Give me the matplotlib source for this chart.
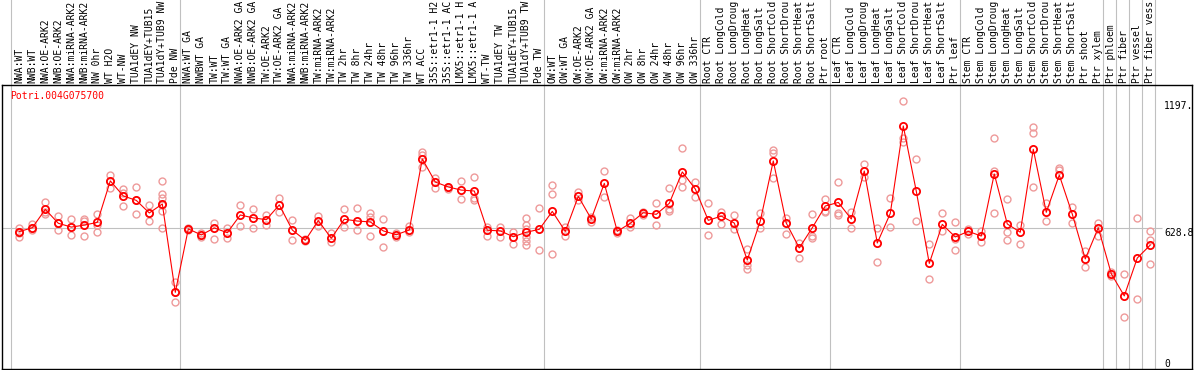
import numpy as np
import matplotlib
matplotlib.use("Agg")
import matplotlib.pyplot as plt
import matplotlib.transforms as mtransforms

plt.rcParams['font.family'] = 'DejaVu Sans Mono'
plt.rcParams['font.size'] = 7.0

gene = "Potri.004G075700"

samples = [
    # NW
    "NWA:WT", "NWB:WT", "NWA:OE-ARK2", "NWB:OE-ARK2", "NWA:miRNA-ARK2", "NWB:miRNA-ARK2",
    "NW 0hr", "WT H2O", "WT-NW", "TUA1dEY NW", "TUA1dEY+TUB15 NW", "TUA1dY+TUB9 NW", "Pde NW",
    # TW
    "NWA:WT GA", "NWBWT GA", "TW:WT", "TW:WT GA", "NWA:OE-ARK2 GA", "NWB:OE-ARK2 GA",
    "TW:OE-ARK2", "TW:OE-ARK2 GA", "NWA:miRNA-ARK2", "NWB:miRNA-ARK2", "TW:miRNA-ARK2",
    "TW:miRNA-ARK2", "TW 2hr", "TW 8hr", "TW 24hr", "TW 48hr", "TW 96hr", "TW 336hr", "WT ACC",
    "35S::etr1-1 H2O", "35S::etr1-1 ACC", "LMX5::etr1-1 H2O", "LMX5::etr1-1 ACC", "WT-TW",
    "TUA1dEY TW", "TUA1dEY+TUB15 TW", "TUA1dY+TUB9 TW", "Pde TW",
    # OW
    "OW:WT", "OW:WT GA", "OW:OE-ARK2", "OW:OE-ARK2 GA", "OW:miRNA-ARK2", "OW:miRNA-ARK2",
    "OW 2hr", "OW 8hr", "OW 24hr", "OW 48hr", "OW 96hr", "OW 336hr",
    # root
    "Root CTR", "Root LongCold", "Root LongDrought", "Root LongHeat", "Root LongSalt",
    "Root ShortCold", "Root ShortDrought", "Root ShortHeat", "Root ShortSalt", "Ptr root",
    # leaf
    "Leaf CTR", "Leaf LongCold", "Leaf LongDrought", "Leaf LongHeat", "Leaf LongSalt",
    "Leaf ShortCold", "Leaf ShortDrought", "Leaf ShortHeat", "Leaf ShortSalt", "Ptr leaf",
    # stem
    "Stem CTR", "Stem LongCold", "Stem LongDrought", "Stem LongHeat", "Stem LongSalt",
    "Stem ShortCold", "Stem ShortDrought", "Stem ShortHeat", "Stem ShortSalt", "Ptr shoot",
    "Ptr xylem",
    "Ptr phloem", "Ptr fiber", "Ptr vessel", "Ptr fiber vessel",
]

# index of first sample in each block
group_starts = [0, 13, 41, 53, 63, 73, 84, 85, 86, 87]

means = [613, 630, 712, 650, 633, 642, 654, 839, 772, 752, 696, 736, 342,
         625, 598, 629, 608, 687, 674, 666, 732, 620, 574, 662, 583, 668, 660, 656,
         616, 599, 620, 937, 834, 812, 798, 794, 619, 616, 590, 610, 623,
         703, 614, 770, 669, 828, 614, 650, 697, 690, 739, 879, 803,
         663, 682, 651, 486, 660, 928, 651, 540, 630, 727,
         743, 669, 883, 562, 694, 1084, 793, 471, 645, 589,
         614, 593, 870, 647, 610, 980, 699, 865, 691, 491, 630,
         425, 326, 495, 553]

replicates = [
    [627, 608, 590], [645, 630, 620], [745, 702, 691], [682, 650, 620], [668, 633, 596],
    [669, 662, 593], [691, 642, 610], [865, 840, 809], [803, 784, 726], [810, 752, 690],
    [730, 694, 659], [839, 781, 761, 732, 706, 627], [388, 342, 299],
    [630, 620], [605, 590], [650, 578], [627, 583], [730, 638], [714, 627], [687, 642],
    [763, 702], [665, 574], [578, 570], [684, 638], [605, 568], [714, 635], [718, 620],
    [697, 680, 595], [669, 543], [608, 590], [638, 613], [968, 955, 900], [853, 809],
    [813, 804], [839, 757], [855, 764, 754], [635, 595], [632, 590], [610, 556],
    [674, 642, 623, 590, 572, 555], [717, 529],
    [819, 779, 513], [635, 595], [791, 754], [680, 654], [883, 769], [620, 608],
    [672, 635], [700, 685], [739, 641], [806, 712, 705], [984, 843, 810], [834, 769],
    [739, 596], [702, 645], [685, 626], [537, 464, 446], [696, 630], [975, 962, 852],
    [675, 604], [561, 494], [690, 595, 586], [758, 705, 699],
    [833, 694, 687], [699, 627], [914, 858], [627, 479], [761, 632], [1197, 1029, 1011],
    [935, 659], [556, 400], [694, 617], [654, 578, 529],
    [623, 604], [616, 567], [1029, 883, 694], [757, 610, 574], [642, 556],
    [1078, 1051, 810], [739, 662], [898, 888], [721, 650], [528, 454], [653, 595],
    [433, 415], [424, 231], [672, 314], [614, 577, 467],
]

ref_value = 628.8
scale_labels = ["1197.", "628.8", "0"]
scale_values = [1197, 628.8, 0]

W, H = 1194, 370
fig = plt.figure(figsize=(W / 100, H / 100), dpi=100)
ax = fig.add_axes([1.5 / W, 1 / H, 1190.5 / W, 284.5 / H])
ax.set_xlim(-1.37, 90.21)
ax.set_ylim(0, 1269)
ax.set_xticks([])
ax.set_yticks([])
for s in ax.spines.values():
    s.set_linewidth(1.0)
    s.set_color('black')

grey = '#c0c0c0'
bounds = group_starts + [len(samples)]
for b in bounds[:-1]:
    ax.axvline(b - 0.64, ymin=0, ymax=1.3, color=grey, lw=0.8, clip_on=False, zorder=1)
ax.axvline(bounds[-1] - 0.62, ymin=0, ymax=1.3, color=grey, lw=0.8, clip_on=False, zorder=1)
ax.hlines(ref_value, -1.37, 87.9, color=grey, lw=0.8, zorder=1)

x = np.arange(len(samples))
for i, reps in enumerate(replicates):
    ax.plot([x[i]] * len(reps), reps, 'o', ms=5, mfc='none', mec='#ee9a9a', mew=1.0, zorder=2)
ax.plot(x, means, '-', color='red', lw=0.8, zorder=3)
ax.plot(x, means, 'o', ms=5.2, mfc='none', mec='red', mew=1.3, zorder=4)

# sample names in the header band; the header only has room for 14 chars
trans = mtransforms.blended_transform_factory(ax.transData, ax.transAxes)
for i, name in enumerate(samples):
    ax.text(x[i], 1.0053, name[:14].rstrip(), rotation=90, ha='center', va='bottom',
            transform=trans, clip_on=False)

ax.text(-0.72, 1219, gene, color='red', va='center', ha='left')

for lab, v in zip(scale_labels, scale_values):
    ax.text(88.05, v, lab, ha='left', va='bottom' if v == 0 else 'top', clip_on=False)

fig.savefig('out.png', dpi=100)
